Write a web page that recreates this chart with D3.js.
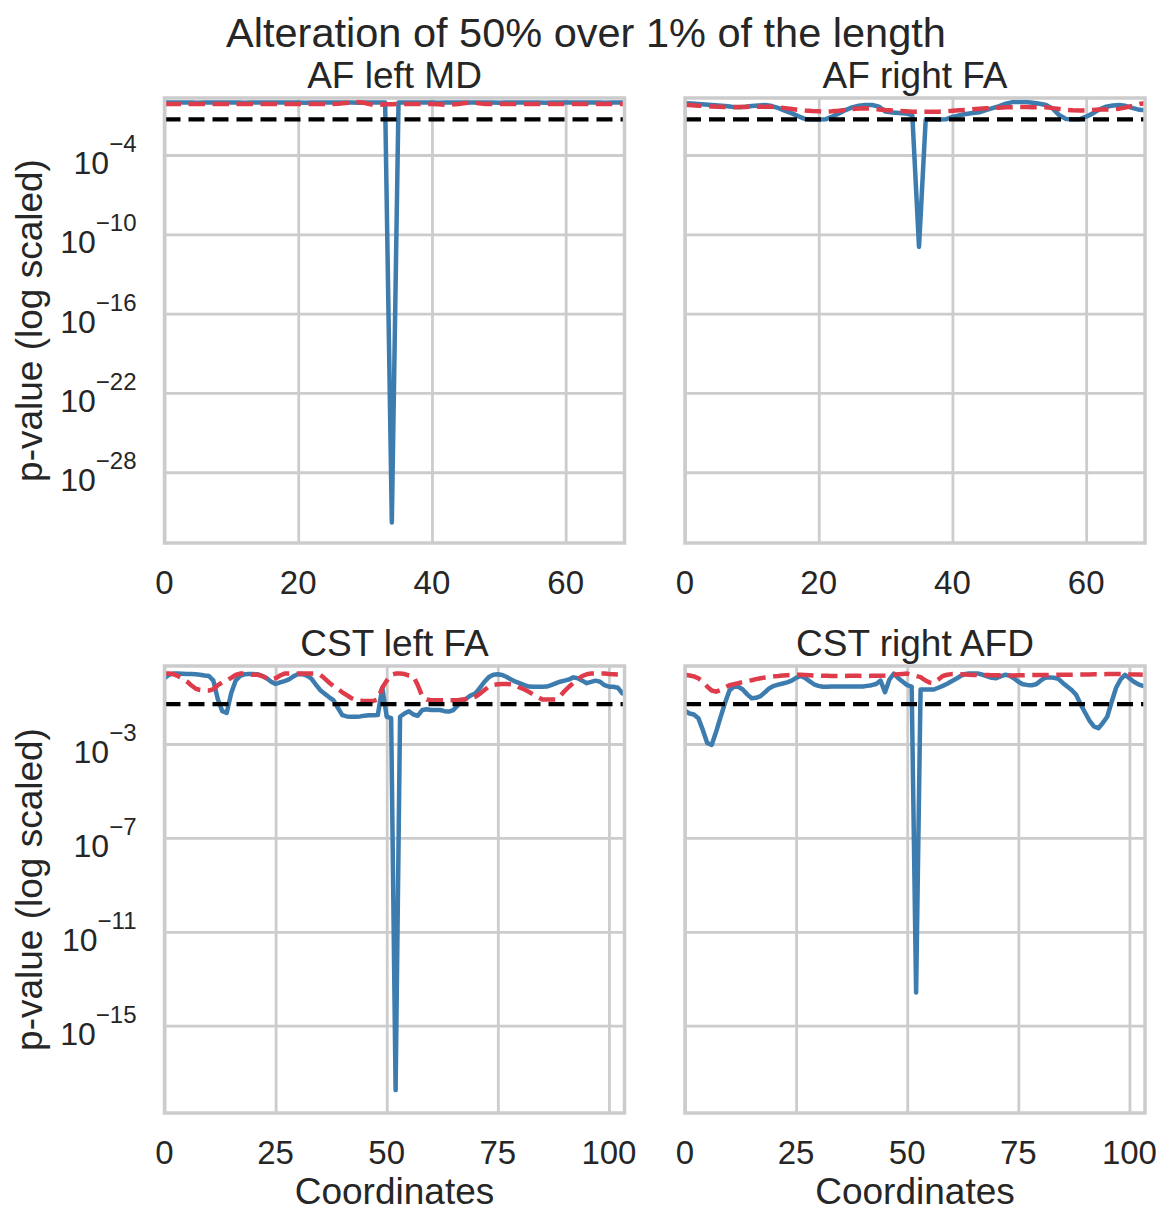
<!DOCTYPE html>
<html>
<head>
    <meta charset="utf-8">
    <title>Alteration of 50% over 1% of the length</title>
    <script src="https://cdn.jsdelivr.net/npm/d3@7"></script>
    <style>
    body { margin: 0; background: #fff; }
    text { font-family: "Liberation Sans", Arial, sans-serif; fill: #262626; }
    .grid line { stroke: #cccccc; stroke-width: 2.8; }
    .grid .domain { display: none; }
    .spine { fill: none; stroke: #cccccc; stroke-width: 3.5; }
    </style>
</head>
<body>
<div id="chart"></div>

<script>
    var suptitle = "Alteration of 50% over 1% of the length";
    var panelTitles = ["AF left MD", "AF right FA", "CST left FA", "CST right AFD"];
    var threshold = 0.05; // significance line

    // tick values
    var topXTicks = [0, 20, 40, 60];
    var bottomXTicks = [0, 25, 50, 75, 100];
    var topYExp = [-4, -10, -16, -22, -28];
    var bottomYExp = [-3, -7, -11, -15];

    // p-values along the bundle, blue = altered, red = not altered
    var afLeftMdAltered = [
        0.92,0.92,0.93,0.92,0.92,0.91,0.92,0.93,0.93,0.92,
        0.92,0.92,0.91,0.92,0.93,0.92,0.92,0.92,0.93,0.92,
        0.92,0.91,0.92,0.92,0.93,0.93,0.92,0.92,0.92,0.91,
        0.92,0.92,0.93,0.92,1.6e-32,0.92,0.92,0.93,0.92,0.92,
        0.92,0.91,0.92,0.93,0.92,0.92,0.92,0.93,0.92,0.92,
        0.91,0.92,0.92,0.93,0.92,0.92,0.92,0.91,0.92,0.93,
        0.92,0.92,0.92,0.93,0.92,0.92,0.91,0.92,0.92,0.92];
    var afLeftMdNull = [
        0.72,0.72,0.71,0.72,0.73,0.72,0.72,0.71,0.72,0.72,
        0.73,0.72,0.72,0.72,0.71,0.72,0.72,0.73,0.72,0.72,
        0.72,0.71,0.72,0.72,0.73,0.72,0.75,0.85,0.95,1.0,
        0.85,0.65,0.62,0.68,0.7,0.72,0.72,0.72,0.71,0.72,
        0.72,0.68,0.62,0.66,0.72,0.85,0.98,0.8,0.72,0.72,
        0.71,0.72,0.72,0.73,0.72,0.72,0.72,0.71,0.72,0.72,
        0.73,0.72,0.72,0.71,0.72,0.72,0.72,0.73,0.72,0.72];

    var afRightFaAltered = [
        0.81,0.79,0.72,0.66,0.6,0.55,0.5,0.44,0.41,0.44,
        0.5,0.56,0.6,0.5,0.35,0.22,0.14,0.083,0.052,0.048,
        0.048,0.05,0.079,0.14,0.25,0.4,0.54,0.6,0.6,0.45,
        0.19,0.16,0.15,0.14,0.1,1.1e-11,0.05,0.05,0.048,0.05,
        0.076,0.1,0.126,0.15,0.17,0.25,0.35,0.5,0.76,1.0,
        1.0,1.0,0.89,0.76,0.6,0.32,0.1,0.052,0.05,0.05,
        0.079,0.14,0.28,0.45,0.56,0.6,0.5,0.35,0.26,0.24];
    var afRightFaNull = [
        0.63,0.58,0.54,0.5,0.47,0.44,0.42,0.41,0.42,0.43,
        0.44,0.45,0.45,0.44,0.4,0.35,0.3,0.26,0.23,0.21,
        0.2,0.19,0.2,0.22,0.26,0.3,0.33,0.34,0.32,0.28,
        0.25,0.23,0.21,0.2,0.19,0.186,0.186,0.19,0.19,0.2,
        0.22,0.24,0.26,0.29,0.32,0.34,0.36,0.38,0.4,0.41,
        0.42,0.42,0.41,0.41,0.4,0.35,0.3,0.26,0.24,0.23,
        0.23,0.25,0.27,0.28,0.28,0.32,0.4,0.52,0.72,0.87];

    var cstLeftFaAltered = [
        0.63,0.89,1.0,1.0,0.98,0.95,0.95,0.93,0.89,0.83,
        0.79,0.5,0.08,0.025,0.021,0.145,0.5,0.79,0.93,0.95,
        0.95,0.93,0.79,0.63,0.45,0.36,0.42,0.48,0.56,0.76,
        0.93,0.95,0.83,0.63,0.35,0.2,0.14,0.1,0.074,0.035,
        0.017,0.015,0.0145,0.0145,0.015,0.016,0.0166,0.0166,0.017,0.25,
        0.0145,0.0126,1.8e-18,0.0145,0.02,0.025,0.018,0.016,0.028,0.03,
        0.028,0.028,0.028,0.025,0.024,0.028,0.045,0.063,0.089,0.12,
        0.145,0.25,0.45,0.71,0.89,0.93,0.87,0.71,0.56,0.45,
        0.38,0.32,0.28,0.275,0.275,0.275,0.28,0.32,0.38,0.45,
        0.5,0.56,0.69,0.63,0.5,0.39,0.44,0.5,0.45,0.32,
        0.275,0.275,0.25,0.145];
    var cstLeftFaNull = [
        1.0,1.0,0.95,0.79,0.63,0.47,0.32,0.23,0.2,0.19,
        0.19,0.22,0.32,0.42,0.5,0.66,0.87,1.0,1.0,0.95,
        0.89,0.89,0.79,0.63,0.56,0.63,0.83,1.0,1.0,1.0,
        1.0,1.0,1.0,1.0,1.0,0.89,0.63,0.42,0.3,0.22,
        0.16,0.12,0.091,0.076,0.069,0.068,0.068,0.068,0.079,0.25,
        0.5,0.89,1.0,1.0,0.95,0.83,0.76,0.32,0.105,0.079,
        0.074,0.074,0.074,0.074,0.074,0.074,0.074,0.079,0.083,0.093,
        0.105,0.14,0.2,0.28,0.33,0.35,0.36,0.36,0.35,0.32,
        0.25,0.21,0.166,0.126,0.1,0.079,0.079,0.079,0.079,0.11,
        0.18,0.275,0.4,0.56,0.79,0.93,1.0,1.0,1.0,1.0,
        0.95,0.93,0.91,0.89];

    var cstRightAfdAltered = [
        0.026,0.02,0.018,0.0126,0.004,0.0011,0.00091,0.0033,0.014,0.056,
        0.19,0.28,0.275,0.21,0.13,0.089,0.093,0.11,0.16,0.24,
        0.3,0.34,0.38,0.42,0.5,0.66,0.79,0.66,0.48,0.35,
        0.3,0.275,0.275,0.28,0.28,0.28,0.28,0.28,0.28,0.28,
        0.28,0.3,0.32,0.36,0.5,0.16,0.56,1.0,0.63,0.45,
        0.32,0.275,2.6e-14,0.21,0.21,0.21,0.21,0.25,0.3,0.37,
        0.47,0.6,0.79,0.95,1.0,1.0,1.0,0.89,0.76,0.66,
        0.63,0.76,0.89,0.83,0.63,0.45,0.35,0.33,0.32,0.35,
        0.5,0.66,0.69,0.66,0.6,0.4,0.28,0.2,0.126,0.05,
        0.022,0.01,0.0056,0.0047,0.0079,0.0145,0.063,0.25,0.56,0.89,
        0.63,0.45,0.35,0.3];
    var cstRightAfdNull = [
        0.89,0.83,0.76,0.63,0.45,0.28,0.19,0.17,0.2,0.26,
        0.32,0.35,0.39,0.44,0.48,0.52,0.58,0.63,0.68,0.72,
        0.76,0.79,0.83,0.85,0.87,0.89,0.89,0.87,0.85,0.83,
        0.82,0.8,0.8,0.79,0.79,0.79,0.79,0.8,0.8,0.8,
        0.79,0.79,0.8,0.8,0.81,0.83,0.86,0.9,0.94,0.97,
        1.0,0.89,0.79,0.71,0.52,0.42,0.4,0.56,0.79,0.89,
        0.95,0.95,0.93,0.91,0.9,0.88,0.87,0.86,0.86,0.85,
        0.85,0.84,0.84,0.83,0.83,0.84,0.84,0.85,0.86,0.87,
        0.87,0.88,0.88,0.89,0.89,0.9,0.9,0.9,0.91,0.91,
        0.92,0.92,0.93,0.93,0.94,0.95,0.96,0.97,0.96,0.95,
        0.93,0.92,0.91,0.9];

    //Width and height of the SVG
    var w = 1171;
    var h = 1227;
    var colLeft = [164.5, 685];
    var colW = 460;
    var rowTop = [98, 666];
    var rowH = [445, 447];
    var blue = "#3d7cae", red = "#de3c4b";

    var panels = [
        { title: panelTitles[0], alt: afLeftMdAltered, nul: afLeftMdNull, col: 0, row: 0 },
        { title: panelTitles[1], alt: afRightFaAltered, nul: afRightFaNull, col: 1, row: 0 },
        { title: panelTitles[2], alt: cstLeftFaAltered, nul: cstLeftFaNull, col: 0, row: 1 },
        { title: panelTitles[3], alt: cstRightAfdAltered, nul: cstRightAfdNull, col: 1, row: 1 }
    ];
    var rowInfo = [
        { xMax: 68.8, xTicks: topXTicks, yExp: topYExp, yDomain: [Math.pow(10, -33.35), Math.pow(10, 0.31)] },
        { xMax: 103.5, xTicks: bottomXTicks, yExp: bottomYExp, yDomain: [Math.pow(10, -18.72), Math.pow(10, 0.323)] }
    ];

    var svg = d3.select("#chart")
        .append("svg")
        .attr("width", w)
        .attr("height", h);

    svg.append("text")
        .attr("x", 586)
        .attr("y", 47)
        .attr("text-anchor", "middle")
        .style("font-size", "41.5px")
        .text(suptitle);

    panels.forEach(function(p, k) {
        var r = rowInfo[p.row];
        var left = colLeft[p.col], top = rowTop[p.row], ph = rowH[p.row];
        var x = d3.scaleLinear().domain([0, r.xMax]).range([left, left + colW]);
        var y = d3.scaleLog().domain(r.yDomain).range([top + ph, top]);
        var g = svg.append("g");

        // grid
        g.append("g")
            .attr("class", "grid")
            .attr("transform", "translate(0," + (top + ph) + ")")
            .call(d3.axisBottom(x).tickValues(r.xTicks).tickSize(-ph).tickFormat(""));
        g.append("g")
            .attr("class", "grid")
            .attr("transform", "translate(" + left + ",0)")
            .call(d3.axisLeft(y).tickValues(r.yExp.map(function(e) { return Math.pow(10, e); })).tickSize(-colW).tickFormat(""));

        // lines, clipped to the axes box
        g.append("clipPath").attr("id", "clip" + k)
            .append("rect").attr("x", left).attr("y", top).attr("width", colW).attr("height", ph);
        var line = d3.line()
            .x(function(d, i) { return x(i); })
            .y(function(d) { return y(d); });
        var lines = g.append("g").attr("clip-path", "url(#clip" + k + ")");
        lines.append("path").datum(p.alt)
            .attr("d", line)
            .attr("fill", "none").attr("stroke", blue).attr("stroke-width", 4.5)
            .attr("stroke-linejoin", "round").attr("stroke-linecap", "round");
        lines.append("path").datum(p.nul)
            .attr("d", line)
            .attr("fill", "none").attr("stroke", red).attr("stroke-width", 4.5)
            .attr("stroke-dasharray", "16.5,7.5").attr("stroke-linejoin", "round");
        lines.append("line")
            .attr("x1", x(0)).attr("x2", x(r.xMax))
            .attr("y1", y(threshold)).attr("y2", y(threshold))
            .attr("stroke", "#000").attr("stroke-width", 4.2)
            .attr("stroke-dasharray", "16,8");

        // spines
        g.append("rect").attr("class", "spine")
            .attr("x", left).attr("y", top).attr("width", colW).attr("height", ph);

        // x tick labels
        g.selectAll(".xlab").data(r.xTicks).enter().append("text")
            .attr("x", function(d) { return x(d); })
            .attr("y", top + ph + 51)
            .attr("text-anchor", "middle")
            .style("font-size", "33px")
            .text(function(d) { return d; });

        // y tick labels only on the left column (shared y per row)
        if (p.col === 0) {
            var t = g.selectAll(".ylab").data(r.yExp).enter().append("text")
                .attr("x", left - 28)
                .attr("y", function(d) { return y(Math.pow(10, d)) + 19; })
                .attr("text-anchor", "end")
                .style("font-size", "32px");
            t.append("tspan").text("10");
            t.append("tspan").attr("dy", -22).style("font-size", "24px")
                .text(function(d) { return "\u2212" + Math.abs(d); });

            svg.append("text")
                .attr("transform", "translate(42," + (top + ph / 2) + ") rotate(-90)")
                .attr("text-anchor", "middle")
                .style("font-size", "37px")
                .text("p-value (log scaled)");
        }
        if (p.row === 1) {
            svg.append("text")
                .attr("x", left + colW / 2)
                .attr("y", 1204)
                .attr("text-anchor", "middle")
                .style("font-size", "37px")
                .text("Coordinates");
        }

        g.append("text")
            .attr("x", left + colW / 2)
            .attr("y", top - 10)
            .attr("text-anchor", "middle")
            .style("font-size", "37px")
            .text(p.title);
    });
</script>
</body>
</html>
